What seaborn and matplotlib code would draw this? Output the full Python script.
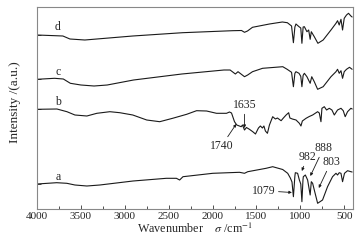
import numpy as np
import pandas as pd
import matplotlib
matplotlib.use('Agg')
import matplotlib.pyplot as plt
import seaborn as sns

# FTIR spectra (relative intensity, 0 at 4000 cm-1)
wn_a = [4000, 3776, 3660, 3568, 3432, 3284, 2906, 2526, 2412, 2375, 2337, 1997, 1693, 1636, 1599,
        1390, 1315, 1201, 1144, 1114, 1095, 1079, 1062, 1057, 1031, 1011, 995, 982, 970, 966, 943,
        917, 888, 875, 860, 803, 747, 690, 633, 594, 576, 557, 537, 519, 497, 462, 424, 410]
int_a = [0, 1.3, 0.7, -1, -2, -1, 3, 5.7, 5.7, 4, 7.3, 10.7, 11.7, 10.7, 12.3,
         15.7, 17.3, 14.5, 10.7, 6, 2, -12.7, 8, 11.3, 10.7, 4, 0, -17.7, 4, 7.3, 9,
         4, -11, 2.3, 0.7, -19.3, -16, -2.7, 7.3, 10.7, 9, 11.3, 10.7, 2.3, 10.7, 13.3, 12.3, 12]

wn_b = [4000, 3773, 3659, 3568, 3432, 3318, 3170, 3057, 2909, 2750, 2602, 2455, 2295, 2182, 2068,
        1955, 1841, 1807, 1784, 1750, 1724, 1674, 1659, 1636, 1614, 1580, 1542, 1511, 1477, 1455,
        1432, 1415, 1398, 1375, 1352, 1315, 1284, 1261, 1219, 1193, 1162, 1133, 1119, 1091, 1049,
        1011, 993, 977, 935, 898, 860, 803, 784, 765, 754, 727, 701, 670, 640, 613, 576, 537,
        511, 489, 462, 424, 409]
int_b = [0, 0.3, -2.4, -5.7, -6.7, -4, -2.4, -3.4, -5.7, -10.7, -12.4, -9, -5, -1.4, -1.7,
         -4, -4, -2.7, -3.7, -12.4, -15.7, -17.4, -15.7, -20.7, -18.2, -20, -22.4, -24.7, -18.7, -16.7,
         -18.7, -16.7, -21.7, -24, -15.7, -7.4, -9.7, -8.7, -11.4, -8.7, -5.7, -3.4, -8.7, -9.7, -10.7,
         -14, -16.7, -11.7, -9, -7.2, -5.7, -2.4, -3.7, -12.4, 1, 2.6, -0.7, 1, -0.7, -5.7, -0.7, 1,
         -1.4, -7.4, -2.4, 1, 0.3]

wn_c = [4000, 3800, 3700, 3620, 3500, 3350, 3200, 2900, 2350, 1870, 1800, 1740, 1710, 1636, 1600,
        1545, 1430, 1200, 1150, 1100, 1079, 1062, 1050, 1015, 995, 982, 968, 954, 925, 888, 870,
        841, 803, 740, 651, 594, 576, 557, 537, 519, 500, 474, 440, 410]
int_c = [0, 1, 0.3, -4, -5.7, -6.7, -5.7, -0.7, 5.3, 9.3, 9.3, 5.3, 7.6, 2.6, 4.3,
         7.6, 11, 12.6, 10, 7, -7.4, 6, 7.6, 6, 3, -7.4, 4, 6, 2.6, -4, 2.6,
         -2.4, -10, -7.4, 2.6, 7.6, 10, 6, 8.6, 1, 7.6, 10, 12, 10]

wn_d = [4000, 3705, 3625, 3455, 2909, 2341, 1773, 1670, 1636, 1602, 1545, 1352, 1205, 1148, 1100,
        1079, 1062, 1050, 1015, 995, 982, 968, 954, 925, 905, 888, 875, 841, 800, 740, 651, 594,
        576, 557, 537, 519, 500, 474, 451, 424, 410]
int_d = [0, -1, -4, -5, -1, 2.3, 4.3, 4.5, 2.7, 4, 7.7, 11, 13, 12.3, 9,
         -7.7, 8, 11, 8.3, 7, -8.3, 8, 8.3, 3.3, 5, -4.3, 3.3, -1.7, -8.3, -5, 5, 11.7,
         14.3, 10, 15.7, 5, 16.7, 20, 21.7, 19, 18]

labels = ['a', 'b', 'c', 'd']

sns.set_style('white')
plt.rcParams['font.family'] = ['Liberation Serif', 'DejaVu Serif']
plt.rcParams['mathtext.fontset'] = 'stix'

fig = plt.figure(figsize=(3.62, 2.43), dpi=100)
ax = fig.add_axes([37 / 362, 34 / 243, 316 / 362, 202 / 243])

# vertical stacking of the traces
offsets = {'a': 25, 'b': 99.7, 'c': 129.7, 'd': 174}
frames = []
for lab, wn, inten in [('a', wn_a, int_a), ('b', wn_b, int_b), ('c', wn_c, int_c), ('d', wn_d, int_d)]:
    df = pd.DataFrame({'wn': wn, 'y': np.array(inten) + offsets[lab], 'sample': lab})
    frames.append(df)
data = pd.concat(frames, ignore_index=True)

sns.lineplot(data=data, x='wn', y='y', units='sample', estimator=None, sort=False,
             color='#1a1a1a', linewidth=0.8, ax=ax)

fs = 8.5
for lab in labels:
    ax.text(3761, offsets[lab] + 7.5, lab, fontsize=fs, ha='center', va='center')

arrow = dict(arrowstyle='-|>', color='#1a1a1a', lw=0.6, mutation_scale=4, shrinkA=0, shrinkB=0)
ax.annotate('1079', xy=(1096, 16.5), xytext=(1420, 18.3), fontsize=fs, ha='center', va='center', arrowprops=arrow)
ax.annotate('982', xy=(983, 38), xytext=(920, 52), fontsize=fs, ha='center', va='center', arrowprops=arrow)
ax.annotate('888', xy=(886, 33), xytext=(735, 61), fontsize=fs, ha='center', va='center', arrowprops=arrow)
ax.annotate('803', xy=(790, 21), xytext=(650, 47), fontsize=fs, ha='center', va='center', arrowprops=arrow)
ax.annotate('1635', xy=(1636, 81), xytext=(1636, 104), fontsize=fs, ha='center', va='center', arrowprops=arrow)
ax.annotate('1740', xy=(1730, 85), xytext=(1898, 63), fontsize=fs, ha='center', va='center', arrowprops=arrow)

ax.set_xlim(4000, 400)
ax.set_ylim(0, 202)
ax.set_xticks([4000, 3500, 3000, 2500, 2000, 1500, 1000, 500])
ax.set_xticks(np.arange(3750, 400, -500), minor=True)
ax.set_yticks([offsets[lab] for lab in labels])
ax.set_yticklabels([])
ax.tick_params(axis='x', which='both', direction='in', bottom=True, top=False,
               labelsize=8, pad=2, color='#333333')
ax.tick_params(axis='x', which='major', length=3, width=0.6)
ax.tick_params(axis='x', which='minor', length=2.5, width=0.6)
ax.tick_params(axis='y', direction='in', left=True, length=3, width=0.6, color='#333333')
for s in ax.spines.values():
    s.set_color('#888888')
    s.set_linewidth(0.8)

ax.set_xlabel(r'Wavenumber    $\sigma$ /cm$^{-1}$', fontsize=8.7, labelpad=1)
ax.set_ylabel('Intensity /(a.u.)', fontsize=9.5)
ax.yaxis.set_label_coords(-0.05, 0.53)

fig.savefig('out.png', dpi=100)
